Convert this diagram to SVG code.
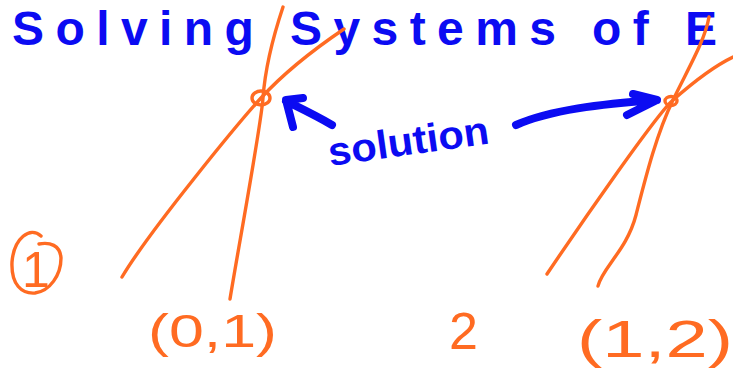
<svg xmlns="http://www.w3.org/2000/svg" width="733" height="368" viewBox="0 0 733 368">
<style>
.o{fill:none;stroke:#ff6b22;stroke-width:3.4;stroke-linecap:round;stroke-linejoin:round}
.b{fill:none;stroke:#0b0bf2;stroke-width:8;stroke-linecap:round;stroke-linejoin:round}
.ot{fill:#ff6b22;font-family:"Liberation Sans",Arial,sans-serif}
.bt{fill:#0b0bf2;font-family:"Liberation Sans",Arial,sans-serif;font-weight:bold}
</style>
<rect width="733" height="368" fill="#fff"/>
<g id="title">
<text class="bt" x="12" y="45" font-size="48" textLength="705" lengthAdjust="spacing">Solving Systems of E</text>
</g>
<g id="graph1">
<path class="o" d="M283,7 C272,40 265,70 263,98 C261,126 238,250 230,299"/>
<path class="o" d="M344,29 C310,52 282,75 261,98 C240,121 150,230 122,277"/>
<ellipse class="o" cx="261" cy="98" rx="9" ry="7" stroke-width="4.5"/>
</g>
<g id="graph2">
<path class="o" d="M709,17 C705,40 690,65 673,100 C656,135 645,180 636,215 C627,250 602,268 598,286"/>
<path class="o" d="M733,57 C710,68 690,85 673,100 C656,115 580,225 547,274"/>
<ellipse class="o" cx="671" cy="101" rx="6" ry="4.5" stroke-width="3.5"/>
</g>
<g id="connectors">
<path class="b" d="M332,125 C315,115 300,108 286,101 M303,98 L286,100 L293,127"/>
<path class="b" d="M516,125 C550,110 600,104 657,100 M633,94 L657,100 L627,115"/>
</g>
<g id="solution">
<text class="bt" x="330" y="166" font-size="40" transform="rotate(-8 330 166)" textLength="162" lengthAdjust="spacingAndGlyphs">solution</text>
</g>
<g id="label1">
<path class="o" d="M41,236 C30,226 14,238 12,262 C11,285 22,294 35,293 C50,291 61,275 61,258 C60,245 50,242 39,244"/>
<text class="ot" x="36" y="287" font-size="50" text-anchor="middle">1</text>
</g>
<g id="label01">
<text class="ot" x="148" y="347" font-size="46" textLength="129" lengthAdjust="spacingAndGlyphs">(0,1)</text>
</g>
<g id="label2">
<text class="ot" x="449" y="349" font-size="52">2</text>
</g>
<g id="label12">
<text class="ot" x="577" y="357" font-size="52" textLength="156" lengthAdjust="spacingAndGlyphs">(1,2)</text>
</g>
</svg>
